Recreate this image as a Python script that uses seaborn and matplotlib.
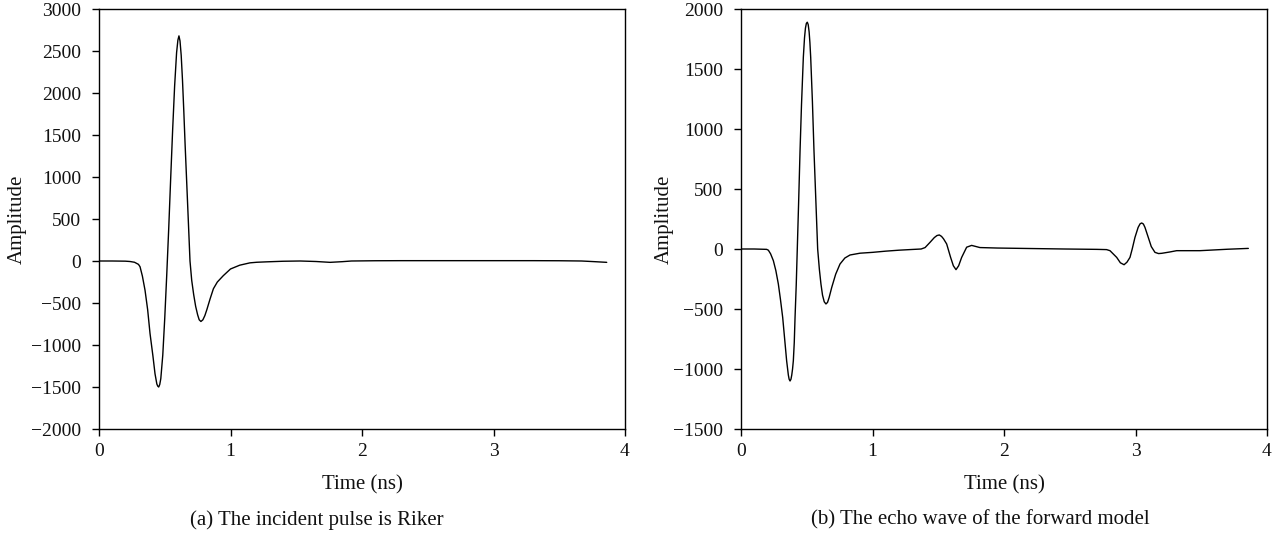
import matplotlib
matplotlib.use("Agg")
import matplotlib.pyplot as plt
import seaborn as sns
import pandas as pd

# ---- data ----
time_a = [0, 0.1, 0.2, 0.236, 0.27, 0.3, 0.312, 0.33, 0.35, 0.37, 0.388, 0.41, 0.426,
          0.44, 0.447, 0.454, 0.462, 0.47, 0.485, 0.5, 0.515, 0.53, 0.545, 0.56, 0.575,
          0.59, 0.6, 0.608, 0.616, 0.625, 0.635, 0.645, 0.655, 0.667, 0.68, 0.692,
          0.705, 0.72, 0.735, 0.75, 0.762, 0.775, 0.79, 0.805, 0.82, 0.845, 0.87,
          0.9, 0.945, 1.0, 1.07, 1.148, 1.2, 1.275, 1.4, 1.53, 1.65, 1.757, 1.85,
          1.92, 2.1, 2.3, 2.8, 3.3, 3.5, 3.67, 3.77, 3.861]
amp_a = [0, 0, -2, -6, -15, -40, -68, -180, -348, -580, -863, -1130, -1343,
         -1465, -1490, -1500, -1470, -1400, -1120, -680, -170, 380, 980, 1560, 2080,
         2480, 2630, 2680, 2620, 2450, 2150, 1780, 1380, 935, 450, 0,
         -230, -400, -540, -640, -700, -720, -700, -650, -580, -450, -330,
         -250, -175, -95, -50, -22, -15, -10, -3, 0, -6, -16, -8,
         0, 3, 4, 4, 4, 3, 0, -8, -16]

time_b = [0, 0.1, 0.195, 0.208, 0.225, 0.246, 0.265, 0.284, 0.3, 0.317, 0.332, 0.347,
          0.36, 0.366, 0.373, 0.38, 0.386, 0.392, 0.398, 0.405, 0.411, 0.42, 0.428,
          0.438, 0.449, 0.46, 0.474, 0.483, 0.49, 0.497, 0.504, 0.511, 0.518, 0.524,
          0.53, 0.543, 0.555, 0.57, 0.583, 0.596, 0.608, 0.62, 0.633, 0.646, 0.658,
          0.67, 0.69, 0.72, 0.753, 0.79, 0.829, 0.905, 1.0, 1.1, 1.2, 1.3,
          1.37, 1.4, 1.437, 1.47, 1.49, 1.508, 1.525, 1.54, 1.564, 1.594, 1.615, 1.635,
          1.655, 1.678, 1.716, 1.754, 1.817, 1.95, 2.2, 2.46, 2.705, 2.78, 2.806, 2.857,
          2.885, 2.913, 2.935, 2.958, 2.975, 2.996, 3.02, 3.035, 3.047, 3.06, 3.072,
          3.097, 3.12, 3.148, 3.175, 3.199, 3.26, 3.313, 3.49, 3.7, 3.858]
amp_b = [0, 0, -3, -10, -40, -97, -180, -292, -420, -570, -750, -931,
         -1050, -1085, -1100, -1085, -1050, -1000, -931, -780, -570, -300, 0,
         380, 819, 1200, 1597, 1760, 1840, 1880, 1890, 1870, 1810, 1720,
         1597, 1230, 819, 380, 0, -170, -292, -385, -440, -458, -445,
         -405, -320, -210, -125, -75, -50, -35, -28, -18, -10, -4,
         0, 12, 55, 95, 112, 117, 105, 85, 42, -70, -140, -172,
         -140, -70, 15, 30, 12, 8, 4, 0, -3, -5, -14, -70,
         -115, -131, -110, -70, 0, 97, 180, 210, 217, 208, 180,
         97, 20, -28, -38, -36, -25, -14, -14, -2, 5]

x_ticks = [0, 1, 2, 3, 4]
y_ticks_a = [-2000, -1500, -1000, -500, 0, 500, 1000, 1500, 2000, 2500, 3000]
y_ticks_b = [-1500, -1000, -500, 0, 500, 1000, 1500, 2000]
x_label = "Time (ns)"
y_label = "Amplitude"
captions = ["(a) The incident pulse is Riker", "(b) The echo wave of the forward model"]

# ---- style ----
sns.set_theme(style="ticks")
plt.rcParams["font.family"] = ["Liberation Serif", "DejaVu Serif"]
plt.rcParams["axes.linewidth"] = 1.0
plt.rcParams["text.color"] = "#111111"
plt.rcParams["axes.labelcolor"] = "#111111"

W, H = 1281, 539
AX_TOP, AX_BOT = 9, 429
fig = plt.figure(figsize=(W / 100, H / 100), dpi=100)
ax_a = fig.add_axes([99 / W, 1 - AX_BOT / H, (625 - 99) / W, (AX_BOT - AX_TOP) / H])
ax_b = fig.add_axes([741 / W, 1 - AX_BOT / H, (1267 - 741) / W, (AX_BOT - AX_TOP) / H])

df_a = pd.DataFrame({"t": time_a, "a": amp_a})
df_b = pd.DataFrame({"t": time_b, "a": amp_b})

# (axes, data, y ticks, caption, caption centre px, ylabel centre px, axes left px)
panels = [(ax_a, df_a, y_ticks_a, captions[0], 317, 17, 99),
          (ax_b, df_b, y_ticks_b, captions[1], 980, 664, 741)]
for ax, df, yt, cap, cx, ylx, left in panels:
    sns.lineplot(data=df, x="t", y="a", ax=ax, color="black", linewidth=1.0,
                 estimator=None, sort=False)
    ax.set_xlim(x_ticks[0], x_ticks[-1])
    ax.set_ylim(yt[0], yt[-1])
    ax.set_xticks(x_ticks)
    ax.set_yticks(yt)
    ax.set_xlabel(x_label, fontsize=15, va="center")
    ax.xaxis.set_label_coords(0.5, -(485 - AX_BOT) / (AX_BOT - AX_TOP))
    ax.set_ylabel(y_label, fontsize=15, va="center")
    ax.yaxis.set_label_coords(-(left - ylx) / 526, 0.5)
    ax.tick_params(direction="out", length=5, width=1, labelsize=14,
                   color="black", labelcolor="#111111", top=False, right=False)
    ax.tick_params(axis="y", pad=8)
    ax.tick_params(axis="x", pad=5)
    for sp in ax.spines.values():
        sp.set_visible(True)
        sp.set_color("black")
        sp.set_linewidth(1.0)
    ax.set_facecolor("white")
    fig.text(cx / W, 1 - 520 / H, cap, ha="center", va="center", fontsize=15)

fig.savefig("out.png", dpi=100, facecolor="white")
